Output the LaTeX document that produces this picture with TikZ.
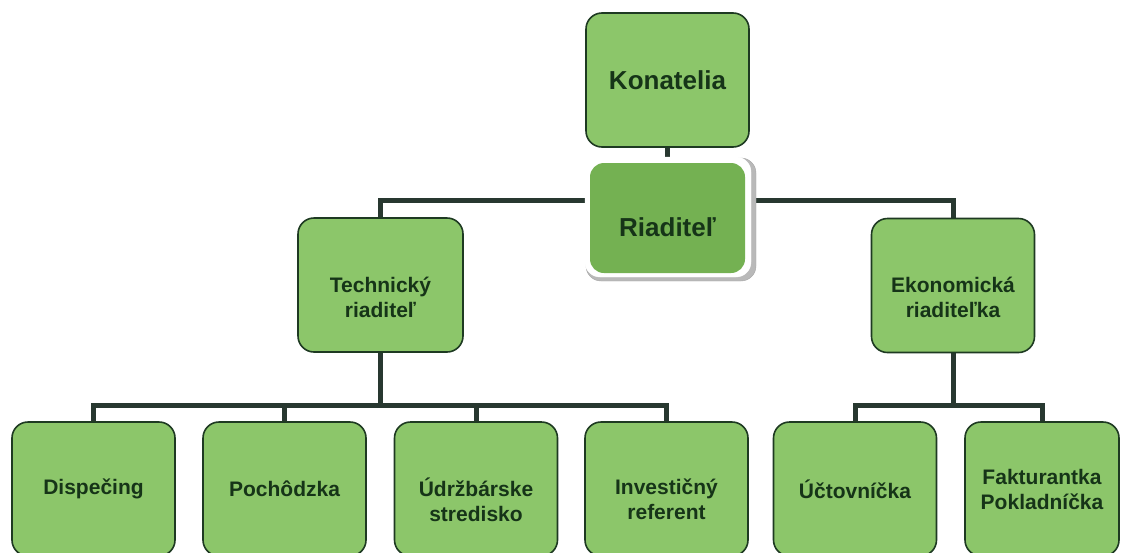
\documentclass[tikz,border=0pt]{standalone}
\usepackage{fontspec}
\setmainfont{Liberation Sans}
\usetikzlibrary{positioning,backgrounds}

\definecolor{boxgreen}{HTML}{8CC66A}
\definecolor{bossgreen}{HTML}{74B152}
\definecolor{edgegreen}{HTML}{1E3A22}
\definecolor{textgreen}{HTML}{163418}
\definecolor{linegray}{HTML}{283830}

\tikzset{
  orgbox/.style={draw=edgegreen, line width=1.6pt, fill=boxgreen,
    rounded corners=16pt, align=center, text=textgreen,
    font=\bfseries\fontsize{21}{25}\selectfont,
    minimum width=163pt, minimum height=134pt, inner sep=0pt},
  topbox/.style={orgbox, font=\bfseries\fontsize{26}{30}\selectfont},
  bossbox/.style={topbox, draw=none, fill=bossgreen, rounded corners=14pt,
    minimum width=155pt, minimum height=110pt},
  % pushes the text of a box a little down
  droptext/.style={text height=#1, text depth=0pt},
  link/.style={draw=linegray, line width=5pt},
}

\begin{document}
\begin{tikzpicture}[x=1pt, y=-1pt]
  \useasboundingbox (0,0) rectangle (1121,552);
  \clip (0,0) rectangle (1121,552);

  % top of the chart
  \node[topbox] (board) at (667.5, 80) {Konatelia};
  \draw[fill=gray!55, draw=gray!70, rounded corners=15pt]
    (586,158) rectangle (756,281);
  \draw[fill=white, draw=white, rounded corners=15pt]
    (585,157) rectangle (751,277);
  \node[bossbox, droptext=37pt] (director) at (667.5, 218) {Riaditeľ};

  % second row
  \node[orgbox, droptext=64pt, minimum width=165pt] (tech) at (380.5, 285) {Technický\\riaditeľ};
  \node[orgbox, droptext=64pt] (econ) at (953, 285.5) {Ekonomická\\riaditeľka};

  % third row
  \node[orgbox] (dispatch) at (93.5, 489) {Dispečing};
  \node[orgbox] (patrol) at (284.5, 489) {Pochôdzka};
  \node[orgbox, droptext=64pt] (maint) at (476, 489) {Údržbárske\\stredisko};
  \node[orgbox, droptext=60pt] (invest) at (666.5, 489) {Investičný\\referent};
  \node[orgbox] (account) at (855, 489) {Účtovníčka};
  \node[orgbox, minimum width=154pt] (invoice) at (1042, 489) {Fakturantka\\Pokladníčka};

  \coordinate (topbar) at (0, 200);
  \coordinate (lowbar) at (0, 405);

  \begin{scope}[on background layer]
    \draw[link] (board.south) -- (director.north);
    \draw[link] (tech.north) -- (tech.north |- topbar) -| (econ.north);
    \foreach \child in {dispatch, patrol, maint, invest}
      \draw[link] (tech.south) -- (tech.south |- lowbar) -| (\child.north);
    \foreach \child in {account, invoice}
      \draw[link] (econ.south) -- (econ.south |- lowbar) -| (\child.north);
  \end{scope}
\end{tikzpicture}
\end{document}
